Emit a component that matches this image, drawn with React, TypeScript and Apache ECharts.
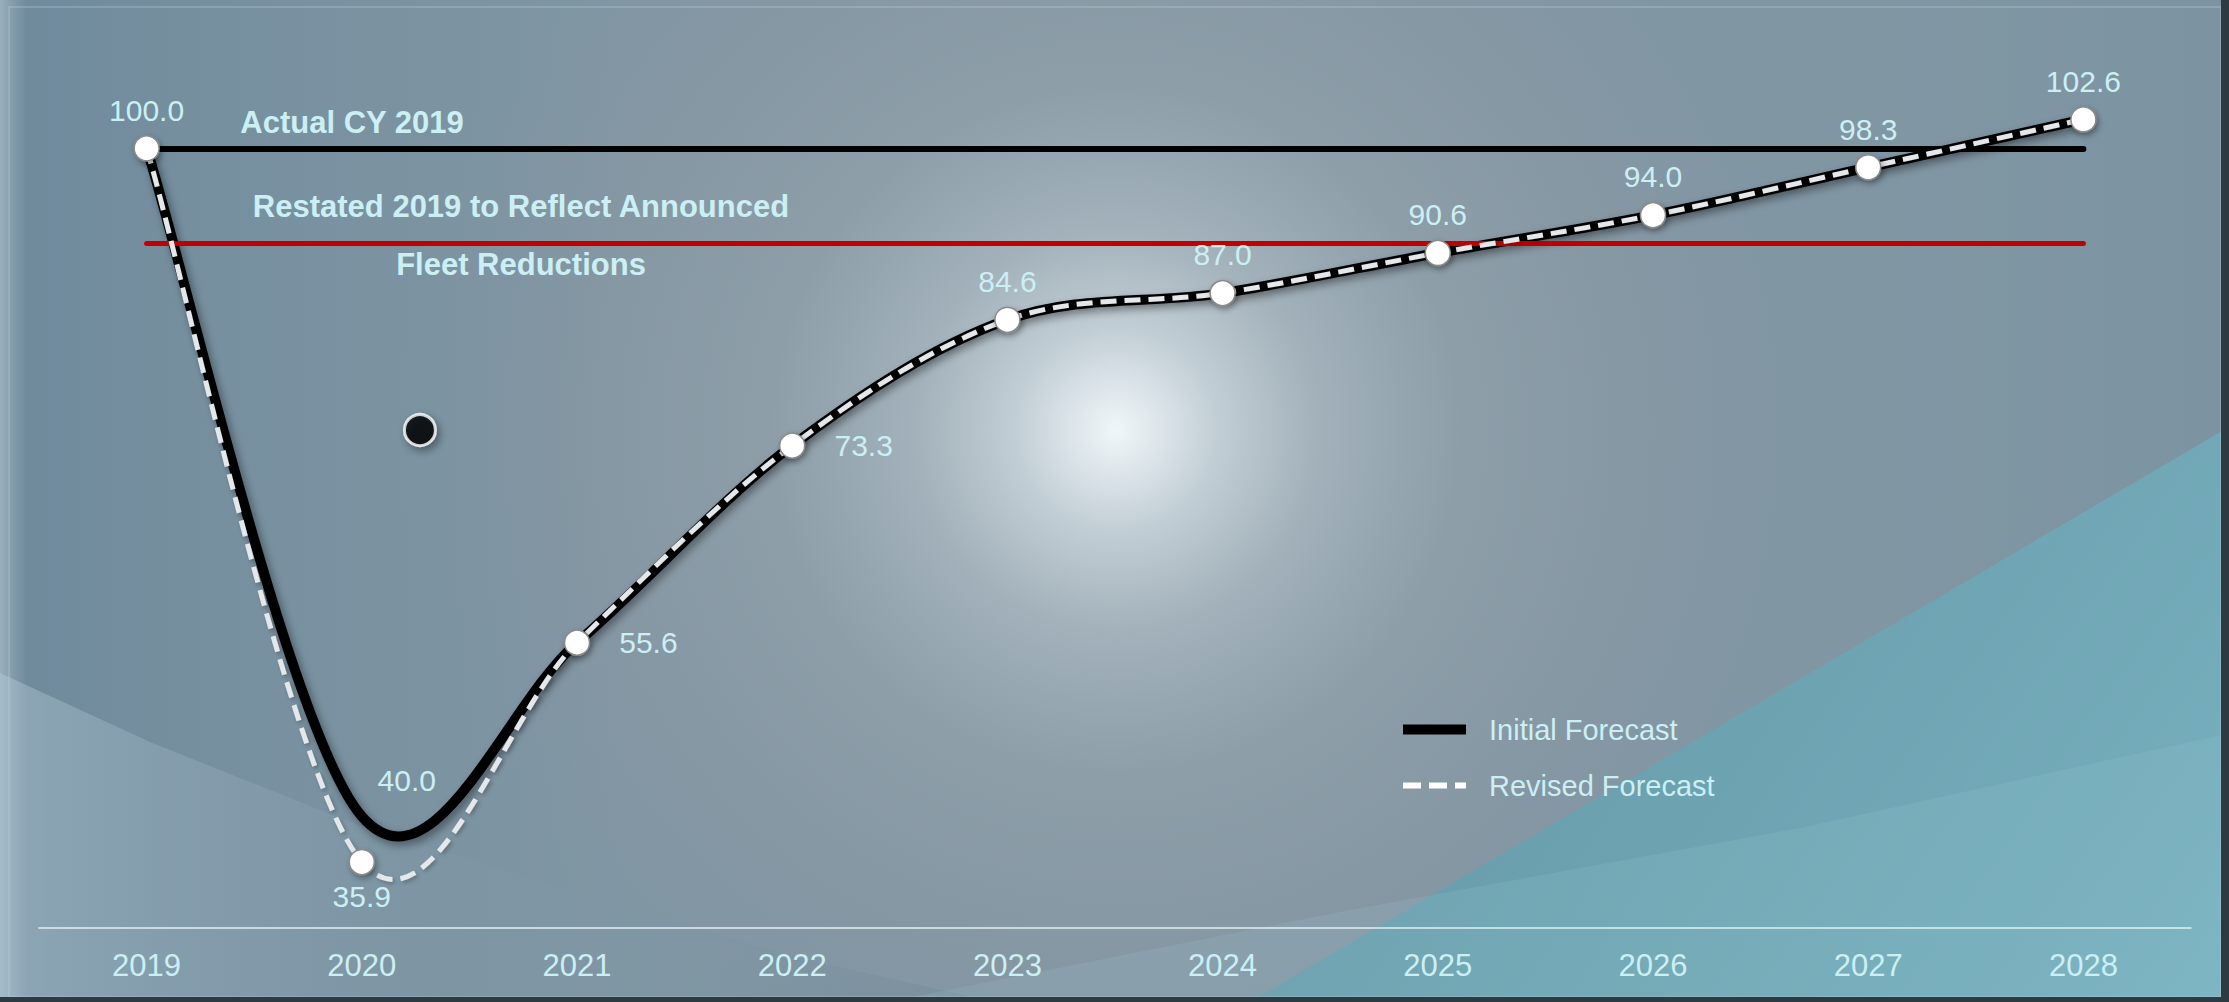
import React, { useEffect, useRef } from 'react';
import * as echarts from 'echarts';

// ---------- data ----------
const YEARS = ['2019', '2020', '2021', '2022', '2023', '2024', '2025', '2026', '2027', '2028'];
const INITIAL_FORECAST = [100.0, 40.0, 55.6, 73.3, 84.6, 87.0, 90.6, 94.0, 98.3, 102.6];
const REVISED_FORECAST = [100.0, 35.9, 55.6, 73.3, 84.6, 87.0, 90.6, 94.0, 98.3, 102.6];
const ACTUAL_CY_2019 = 100.0;
const RESTATED_2019 = 91.5;
const STRAY_POINT = [1.27, 74.7];
const REVISED_LABEL_POS = ['top', 'bottom', 'right', 'right', 'top', 'top', 'top', 'top', 'top', 'top'];

// ---------- style ----------
const W = 2229;
const H = 1002;
const TEXT = '#cbeff3';
const FONT = "'Liberation Sans', Arial, Helvetica, sans-serif";
const LABEL_DIST: Record<string, number> = { top: 10, bottom: 6, right: 29 };

function smoothPath(pts: number[][]): string {
  const n = pts.length;
  let d = `M${pts[0][0]} ${pts[0][1]}`;
  for (let i = 0; i < n - 1; i++) {
    const p0 = pts[Math.max(i - 1, 0)];
    const p1 = pts[i];
    const p2 = pts[i + 1];
    const p3 = pts[Math.min(i + 2, n - 1)];
    const c1x = p1[0] + (p2[0] - p0[0]) / 6;
    const c1y = p1[1] + (p2[1] - p0[1]) / 6;
    const c2x = p2[0] - (p3[0] - p1[0]) / 6;
    const c2y = p2[1] - (p3[1] - p1[1]) / 6;
    d += ` C${c1x} ${c1y} ${c2x} ${c2y} ${p2[0]} ${p2[1]}`;
  }
  return d;
}

function curveSeries(name: string, values: number[], style: any, z: number) {
  return {
    type: 'custom',
    name,
    z,
    silent: true,
    data: values.map((v, i) => [i, v]),
    encode: { x: 0, y: 1 },
    renderItem: (params: any, api: any) => {
      if (params.dataIndex !== 0) return null;
      const pts = values.map((v, i) => api.coord([i, v]));
      return {
        type: 'path',
        shape: { pathData: smoothPath(pts) },
        style: { fill: 'none', lineJoin: 'round', ...style },
      };
    },
  };
}

function buildOption(): any {
  const background = [
    {
      type: 'rect', z: -100, silent: true,
      shape: { x: 0, y: 0, width: W, height: H },
      style: {
        fill: new echarts.graphic.RadialGradient(1116, 430, 720, [
          { offset: 0, color: '#f0f6f8' },
          { offset: 0.04, color: '#e3ebef' },
          { offset: 0.14, color: '#c2ced5' },
          { offset: 0.28, color: '#a2b1ba' },
          { offset: 0.48, color: '#8d9ea9' },
          { offset: 0.75, color: '#8597a3' },
          { offset: 1, color: '#8096a3' },
        ], true),
      },
    },
    {
      type: 'rect', z: -99, silent: true,
      shape: { x: 0, y: 0, width: W, height: H },
      style: {
        fill: new echarts.graphic.LinearGradient(0, 0, W, 0, [
          { offset: 0, color: 'rgba(170,192,206,0.6)' },
          { offset: 0.012, color: 'rgba(95,128,150,0.5)' },
          { offset: 0.1, color: 'rgba(95,128,150,0.28)' },
          { offset: 0.28, color: 'rgba(95,128,150,0)' },
          { offset: 0.85, color: 'rgba(95,128,150,0)' },
          { offset: 1, color: 'rgba(95,128,150,0.12)' },
        ], true),
      },
    },
    {
      type: 'polygon', z: -98, silent: true,
      shape: { points: [[0, 673], [150, 742], [350, 822], [600, 900], [800, 958], [995, 1002], [0, 1002]] },
      style: {
        fill: new echarts.graphic.LinearGradient(0, 0, 1000, 0, [
          { offset: 0, color: 'rgba(180,202,215,0.45)' },
          { offset: 0.45, color: 'rgba(140,165,180,0.1)' },
          { offset: 1, color: 'rgba(95,120,138,0.22)' },
        ], true),
      },
    },
    {
      type: 'polygon', z: -97, silent: true,
      shape: { points: [[1250, 1002], [2222, 431], [2222, 1002]] },
      style: {
        fill: new echarts.graphic.LinearGradient(1500, 500, 2222, 1002, [
          { offset: 0, color: 'rgba(100,155,170,0.9)' },
          { offset: 1, color: 'rgba(120,178,192,0.95)' },
        ], true),
      },
    },
    {
      type: 'polygon', z: -96, silent: true,
      shape: { points: [[888, 1002], [1350, 910], [1800, 828], [2222, 735], [2222, 1002]] },
      style: { fill: 'rgba(160,210,220,0.14)' },
    },
    {
      type: 'rect', z: -95, silent: true,
      shape: { x: 9, y: 7, width: 2212, height: 990 },
      style: { fill: 'none', stroke: 'rgba(195,215,225,0.35)', lineWidth: 1.5 },
    },
    {
      type: 'rect', z: -94, silent: true,
      shape: { x: 2221, y: 0, width: 8, height: H },
      style: { fill: '#2e3a41' },
    },
    {
      type: 'rect', z: -94, silent: true,
      shape: { x: 0, y: 997, width: W, height: 5 },
      style: { fill: '#2e3a41' },
    },
  ];

  const textStyle = {
    fill: TEXT, fontSize: 31, fontWeight: 'bold', fontFamily: FONT,
    align: 'center', verticalAlign: 'middle', textAlign: 'center', textVerticalAlign: 'middle',
  };
  const annotations = [
    { type: 'text', z: 20, silent: true, x: 352, y: 122, style: { text: 'Actual CY 2019', ...textStyle } },
    { type: 'text', z: 20, silent: true, x: 521, y: 206, style: { text: 'Restated 2019 to Reflect Announced', ...textStyle } },
    { type: 'text', z: 20, silent: true, x: 521, y: 264, style: { text: 'Fleet Reductions', ...textStyle } },
  ];

  const hiddenMarker = { color: 'rgba(0,0,0,0)', borderColor: 'rgba(0,0,0,0)', borderWidth: 0, opacity: 0 };
  const first = YEARS[0];
  const last = YEARS[YEARS.length - 1];

  return {
    animation: false,
    backgroundColor: 'transparent',
    graphic: { elements: [...background, ...annotations] },
    grid: { left: 39, right: 38, top: 37, bottom: 74.3 },
    legend: {
      orient: 'vertical',
      left: 1398,
      top: 715,
      padding: 0,
      itemWidth: 63,
      itemHeight: 14,
      itemGap: 27,
      selectedMode: false,
      textStyle: { color: TEXT, fontSize: 29, fontFamily: FONT, padding: [0, 0, 0, 18] },
      data: [
        {
          name: 'Initial Forecast',
          lineStyle: { color: '#000000', width: 10, type: 'solid', opacity: 1 },
          itemStyle: hiddenMarker,
        },
        {
          name: 'Revised Forecast',
          lineStyle: { color: '#ffffff', width: 6, type: [18, 8], opacity: 1 },
          itemStyle: hiddenMarker,
        },
      ],
    },
    xAxis: [
      {
        type: 'category',
        data: YEARS,
        boundaryGap: true,
        axisLine: { show: true, lineStyle: { color: '#e2f0f2', width: 1.5 } },
        axisTick: { show: false },
        splitLine: { show: false },
        axisLabel: { color: TEXT, fontSize: 31, fontFamily: FONT, margin: 22 },
      },
      { type: 'value', min: -0.5, max: YEARS.length - 0.5, show: false },
    ],
    yAxis: { type: 'value', min: 30, max: 110, show: false, splitLine: { show: false } },
    series: [
      {
        type: 'scatter',
        name: 'stray',
        xAxisIndex: 1,
        z: 3,
        data: [STRAY_POINT],
        symbolSize: 31,
        itemStyle: {
          color: '#000000', borderColor: '#ffffff', borderWidth: 3,
          shadowBlur: 8, shadowColor: 'rgba(0,0,0,0.45)', shadowOffsetX: 3, shadowOffsetY: 4,
        },
        markLine: {
          silent: true,
          symbol: ['none', 'none'],
          label: { show: false },
          data: [
            [
              { coord: [0, ACTUAL_CY_2019], lineStyle: { color: '#000000', width: 6, type: 'solid', cap: 'round' } },
              { coord: [YEARS.length - 1, ACTUAL_CY_2019] },
            ],
          ],
        },
      },
      curveSeries('Initial Forecast curve', INITIAL_FORECAST, {
        stroke: '#000000', lineWidth: 10, lineCap: 'round',
        shadowBlur: 8, shadowColor: 'rgba(0,0,0,0.4)', shadowOffsetX: 3, shadowOffsetY: 4,
      }, 4),
      curveSeries('Revised Forecast curve', REVISED_FORECAST, {
        stroke: '#e4e8ea', lineWidth: 5, lineDash: [16, 8], lineCap: 'butt',
        shadowBlur: 4, shadowColor: 'rgba(0,0,0,0.25)', shadowOffsetX: 2, shadowOffsetY: 2,
      }, 5),
      {
        type: 'line',
        name: 'Initial Forecast',
        z: 6,
        symbol: 'none',
        showSymbol: true,
        lineStyle: { color: '#000000', width: 10, opacity: 0 },
        itemStyle: { color: '#000000' },
        markLine: {
          silent: true,
          symbol: ['none', 'none'],
          label: { show: false },
          data: [
            [
              { coord: [first, RESTATED_2019], lineStyle: { color: '#c00000', width: 5, type: 'solid', cap: 'round' } },
              { coord: [last, RESTATED_2019] },
            ],
          ],
        },
        data: INITIAL_FORECAST.map((v, i) =>
          i === 1
            ? {
                value: v,
                symbol: 'circle',
                symbolSize: 2,
                itemStyle: { color: 'rgba(0,0,0,0)', borderWidth: 0 },
                label: {
                  show: true, position: 'inside', offset: [45, -36],
                  color: TEXT, fontSize: 30, fontFamily: FONT,
                  formatter: (p: any) => Number(p.value).toFixed(1),
                },
              }
            : v
        ),
      },
      {
        type: 'line',
        name: 'Revised Forecast',
        z: 7,
        symbol: 'circle',
        symbolSize: 25,
        lineStyle: { color: '#ffffff', width: 6, type: [18, 8], opacity: 0 },
        itemStyle: {
          color: '#ffffff', borderColor: '#8a8a8a', borderWidth: 1.5,
          shadowBlur: 6, shadowColor: 'rgba(0,0,0,0.35)', shadowOffsetX: 2, shadowOffsetY: 3,
        },
        label: {
          show: true, color: TEXT, fontSize: 30, fontFamily: FONT,
          formatter: (p: any) => Number(p.value).toFixed(1),
        },
        data: REVISED_FORECAST.map((v, i) => ({
          value: v,
          label: { position: REVISED_LABEL_POS[i], distance: LABEL_DIST[REVISED_LABEL_POS[i]] },
        })),
      },
    ],
  };
}

export default function App() {
  const ref = useRef<HTMLDivElement>(null);
  useEffect(() => {
    if (!ref.current) return;
    const chart = echarts.init(ref.current, null, { renderer: 'svg' });
    chart.setOption(buildOption());
    return () => chart.dispose();
  }, []);
  return (
    <div
      ref={ref}
      style={{ position: 'absolute', left: 0, top: 0, width: W, height: H, overflow: 'hidden' }}
    />
  );
}
